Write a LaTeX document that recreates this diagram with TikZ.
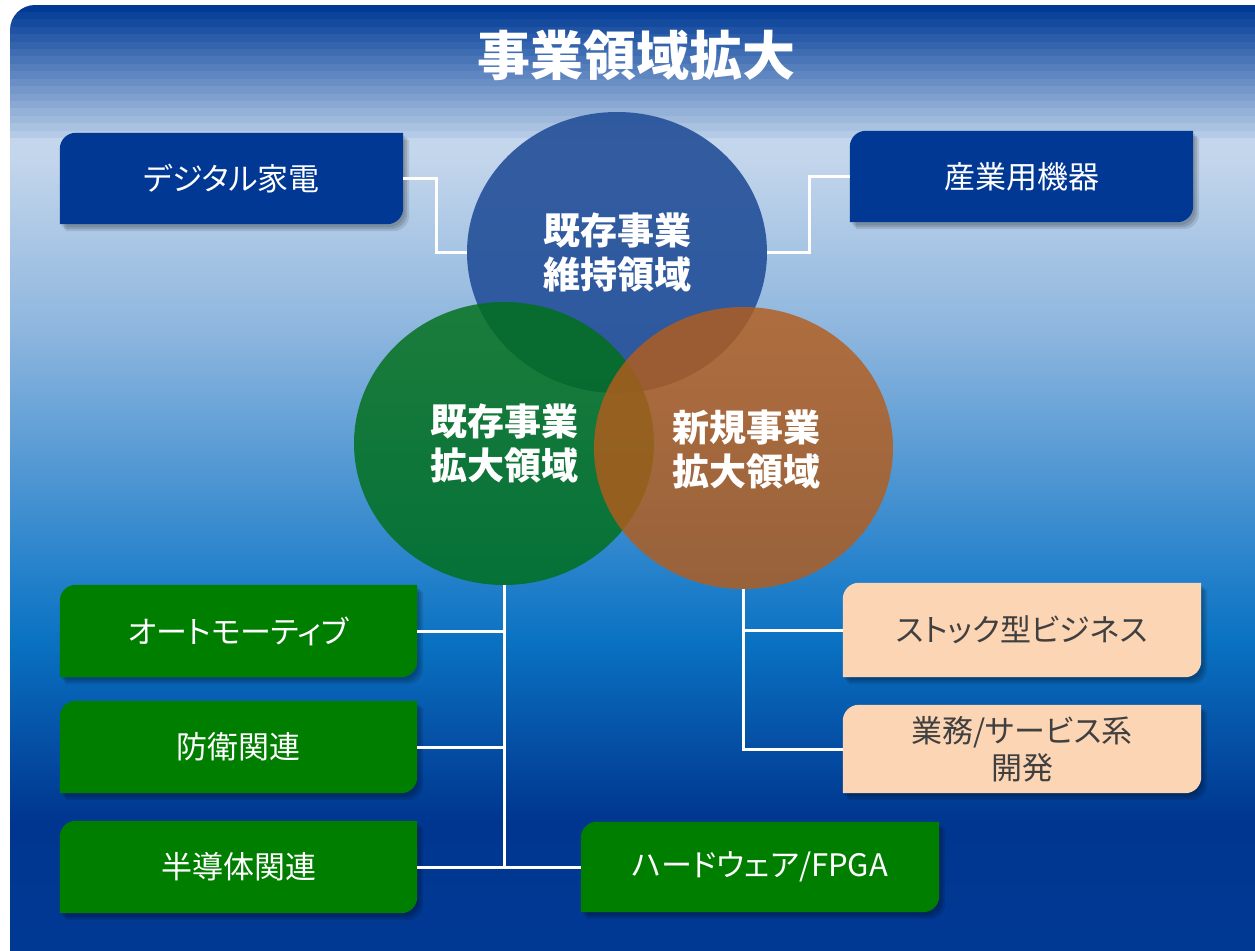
\documentclass[tikz,border=0pt]{standalone}
\usepackage{fontspec}
\setmainfont{Noto Sans CJK JP}
\newfontfamily\boxfont{Noto Sans CJK JP}[RawFeature=+palt]
\usetikzlibrary{shapes.geometric,calc}
\pgfdeclarelayer{bg}
\pgfdeclarelayer{shp}
\pgfsetlayers{bg,shp,main}

\definecolor{topc}{HTML}{003A96}
\definecolor{bandlight}{HTML}{B4CAE6}
\definecolor{g1}{HTML}{C4D6EC}
\definecolor{g2}{HTML}{8EB6DE}
\definecolor{g3}{HTML}{2A84CC}
\definecolor{g4}{HTML}{0A72C2}
\definecolor{g5}{HTML}{00368F}
\definecolor{g6}{HTML}{003A96}
\definecolor{navybox}{HTML}{003894}
\definecolor{greenbox}{HTML}{007E00}
\definecolor{peachbox}{HTML}{FCD5B4}
\definecolor{darktext}{HTML}{404040}
\definecolor{cblue}{HTML}{27529A}
\definecolor{cgreen}{HTML}{006F18}
\definecolor{corange}{HTML}{B55C1A}

\tikzset{
  boxnode/.style={rectangle, inner sep=0pt, align=center,
    font=\boxfont\fontsize{31pt}{37pt}\selectfont},
  onnavy/.style={boxnode, text=white},
  ongreen/.style={boxnode, text=white},
  onpeach/.style={boxnode, text=darktext},
  circ/.style={ellipse, inner sep=0pt, align=center, text=white,
    font=\bfseries\fontsize{37pt}{44pt}\selectfont},
  conn/.style={draw=white, line width=3pt}
}

\newcommand\bpath[3]{let \p1=(#1.north west), \p2=(#1.south east) in
  (\x1+#2,\y2+#3) -- (\x1+#2,\y1-16pt+#3) arc[start angle=180,end angle=90,radius=16pt]
  -- (\x2+#2,\y1+#3) -- (\x2+#2,\y2+16pt+#3) arc[start angle=0,end angle=-90,radius=16pt] -- cycle}

\newcommand\boxshape[2]{%
  \begin{pgfonlayer}{shp}
    \fill[black, opacity=0.10] \bpath{#1}{2pt}{-3pt};
    \fill[black, opacity=0.12] \bpath{#1}{4pt}{-5pt};
    \fill[black, opacity=0.10] \bpath{#1}{6pt}{-7pt};
    \fill[#2] \bpath{#1}{0pt}{0pt};
  \end{pgfonlayer}}

\begin{document}
\begin{tikzpicture}[x=1pt,y=1pt]
\useasboundingbox (0,0) rectangle (1255,-950);

% background panel
\begin{pgfonlayer}{bg}
\fill[white] (0,0) rectangle (1255,-950);
\begin{scope}
  \clip (10,-980) -- (10,-30) arc[start angle=180,end angle=90,radius=25] -- (1280,-5) -- (1280,-980) -- cycle;
  \foreach \i in {0,...,17} {
    \pgfmathsetmacro\pc{100-\i*100/17}
    \pgfmathsetmacro\yt{-5-\i*7.4}
    \fill[topc!\pc!bandlight] (0,\yt+0.3) rectangle (1280,\yt-7.6);
  }
  \fill[g1] (0,-137.8) rectangle (1280,-155.5);
  \shade[top color=g1, bottom color=g2] (0,-155) rectangle (1280,-330.5);
  \shade[top color=g2, bottom color=g3] (0,-330) rectangle (1280,-560.5);
  \shade[top color=g3, bottom color=g4] (0,-560) rectangle (1280,-640.5);
  \shade[top color=g4, bottom color=g5] (0,-640) rectangle (1280,-820.5);
  \shade[top color=g5, bottom color=g6] (0,-820) rectangle (1280,-990);
\end{scope}
\end{pgfonlayer}

% title
\node[text=white, font=\bfseries\fontsize{53pt}{60pt}\selectfont] (title) at (636,-55) {事業領域拡大};

% circles
\node[circ, minimum width=300pt, minimum height=281pt, fill=cblue, fill opacity=0.92, text opacity=1] (blue) at (617,-252.5) {既存事業\\維持領域};
\node[circ, minimum width=300pt, minimum height=283pt, fill=cgreen, fill opacity=0.82, text opacity=1] (green) at (504,-443.5) {既存事業\\拡大領域};
\node[circ, minimum width=299pt, minimum height=282pt, fill=corange, fill opacity=0.81, text opacity=1, text depth=0pt] (orange) at (743.5,-448) {\hspace*{6pt}新規事業\\\hspace*{6pt}拡大領域};

% boxes
\node[onnavy, minimum width=343pt, minimum height=91pt] (A) at (231.5,-178.5) {デジタル家電};
\boxshape{A}{navybox}
\node[onnavy, minimum width=343pt, minimum height=91pt] (B) at (1021.5,-176.5) {産業用機器};
\boxshape{B}{navybox}
\node[ongreen, minimum width=357pt, minimum height=92pt] (C) at (238.5,-631) {オートモーティブ};
\boxshape{C}{greenbox}
\node[ongreen, minimum width=357pt, minimum height=92pt] (D) at (238.5,-747) {防衛関連};
\boxshape{D}{greenbox}
\node[ongreen, minimum width=357pt, minimum height=92pt] (E) at (238.5,-867) {半導体関連};
\boxshape{E}{greenbox}
\node[ongreen, minimum width=358pt, minimum height=90pt] (F) at (760,-867) {ハードウェア/FPGA};
\boxshape{F}{greenbox}
\node[onpeach, minimum width=358pt, minimum height=94pt] (G) at (1022,-630) {ストック型ビジネス};
\boxshape{G}{peachbox}
\node[onpeach, minimum width=358pt, minimum height=88pt] (H) at (1022,-749) {業務/サービス系\\開発};
\boxshape{H}{peachbox}

% connectors
\coordinate (jl) at (436,0);
\coordinate (jr) at (809,0);
\draw[conn] (A.east) -- (A.east -| jl) -- (blue.west -| jl) -- (blue.west);
\draw[conn] (B.west) -- (B.west -| jr) -- (blue.east -| jr) -- (blue.east);
\draw[conn] (green.south) -- (green.south |- F.west) -- (F.west);
\draw[conn] (C.east) -- (C.east -| green.south);
\draw[conn] (D.east) -- (D.east -| green.south);
\draw[conn] (E.east) -- (E.east -| green.south);
\draw[conn] (orange.south) -- (orange.south |- H.west) -- (H.west);
\draw[conn] (G.west) -- (G.west -| orange.south);
\end{tikzpicture}
\end{document}
